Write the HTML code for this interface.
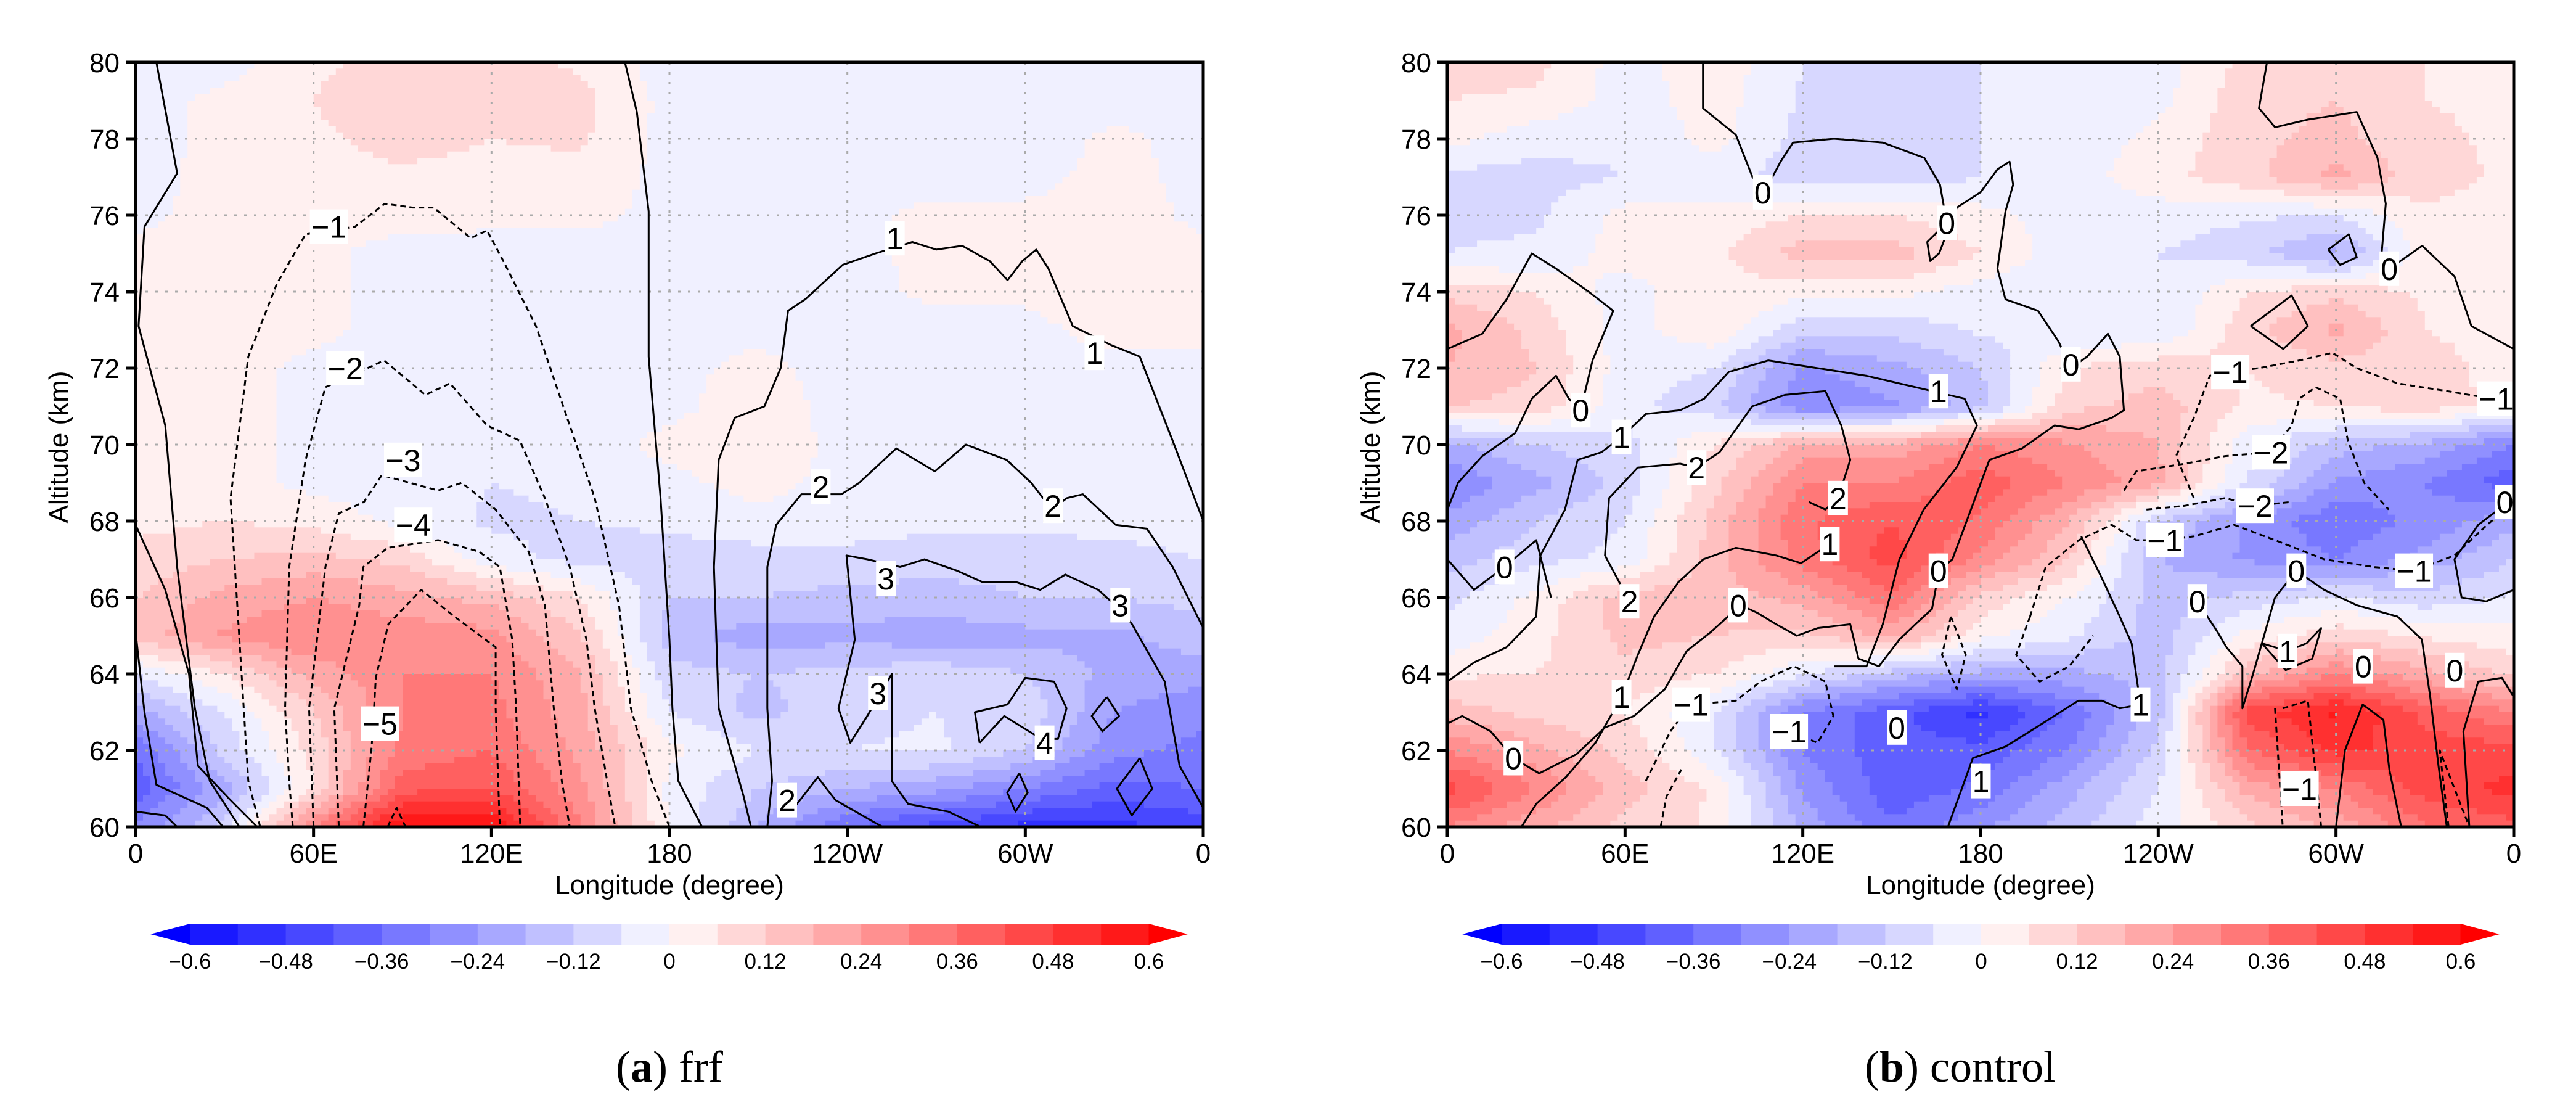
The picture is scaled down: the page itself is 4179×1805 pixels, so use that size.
<!DOCTYPE html>
<html><head><meta charset="utf-8"><style>
html,body{margin:0;padding:0;background:#fff;}
svg{display:block;}
</style></head><body>
<svg id="fig" width="4179" height="1805" viewBox="0 0 4179 1805" xmlns="http://www.w3.org/2000/svg" font-family="Liberation Sans, sans-serif">
<rect x="0" y="0" width="4179" height="1805" fill="#fff"/>
<g id="panelA"></g>
<g id="panelB"></g>
<text x="1086" y="1754" text-anchor="middle" font-family="Liberation Serif, serif" font-size="72">(<tspan font-weight="bold">a</tspan>) frf</text>
<text x="3180" y="1754" text-anchor="middle" font-family="Liberation Serif, serif" font-size="72">(<tspan font-weight="bold">b</tspan>) control</text>
</svg>
<script>
// ---------- data ----------
const lonTicks = [0,60,120,180,240,300,360];
const lonTickLabels = ["0","60E","120E","180","120W","60W","0"];
const altTicks = [60,62,64,66,68,70,72,74,76,78,80];
const cbLevels = [-0.6,-0.48,-0.36,-0.24,-0.12,0,0.12,0.24,0.36,0.48,0.6];
const cbLabels = ["−0.6","−0.48","−0.36","−0.24","−0.12","0","0.12","0.24","0.36","0.48","0.6"];
const gridLons = [0,30,60,90,120,150,180,210,240,270,300,330,360];
const gridAlts = [80,79,78,77,76,75,74,73,72,71,70,69,68,67,66,65,64,63,62,61,60];
const frfField = [
[-0.03,-0.03,0.05,0.08,0.08,0.05,-0.03,-0.03,-0.03,-0.03,-0.05,-0.03,-0.03],
[-0.03,0.02,0.06,0.1,0.08,0.08,-0.02,-0.03,-0.03,-0.04,-0.06,-0.04,-0.03],
[-0.03,0.02,0.05,0.08,0.06,0.07,-0.02,-0.03,-0.03,-0.04,-0.05,0.02,-0.03],
[-0.03,0.03,0.04,0.05,0.04,0.04,-0.02,-0.03,-0.03,-0.03,-0.03,0.03,-0.03],
[-0.02,0.03,0.03,0.03,0.02,0.02,-0.02,-0.03,-0.02,0.02,0.02,0.04,-0.02],
[0.02,0.03,0.02,-0.03,-0.03,-0.03,-0.03,-0.03,-0.02,0.02,0.03,0.04,0.02],
[0.03,0.03,0.02,-0.03,-0.06,-0.04,-0.03,-0.03,-0.03,0.02,0.02,0.06,0.02],
[0.03,0.03,0.02,-0.03,-0.06,-0.04,-0.02,-0.02,-0.03,-0.04,-0.03,0.04,0.02],
[0.03,0.03,-0.02,-0.03,-0.04,-0.03,-0.02,0.02,-0.03,-0.06,-0.05,-0.03,-0.02],
[0.03,0.03,-0.02,-0.03,-0.03,-0.03,-0.02,0.04,-0.03,-0.04,-0.04,-0.04,-0.03],
[0.03,0.03,-0.02,-0.03,-0.04,-0.03,0.02,0.04,-0.02,-0.03,-0.03,-0.04,-0.03],
[0.03,0.03,-0.02,-0.03,-0.06,-0.05,-0.02,0.03,-0.03,-0.03,-0.04,-0.04,-0.03],
[0.04,0.06,0.04,-0.02,-0.07,-0.06,-0.05,-0.03,-0.03,-0.04,-0.04,-0.04,-0.03],
[0.08,0.12,0.14,0.1,-0.04,-0.08,-0.08,-0.08,-0.08,-0.1,-0.1,-0.08,-0.06],
[0.12,0.2,0.24,0.2,0.16,0.06,-0.12,-0.12,-0.14,-0.14,-0.12,-0.12,-0.1],
[0.15,0.25,0.3,0.28,0.26,0.12,-0.15,-0.22,-0.2,-0.22,-0.2,-0.2,-0.14],
[-0.06,0.06,0.2,0.3,0.3,0.18,-0.1,-0.12,-0.1,-0.08,-0.12,-0.2,-0.22],
[-0.2,-0.06,0.12,0.3,0.32,0.2,-0.06,-0.14,-0.08,-0.06,-0.08,-0.24,-0.28],
[-0.35,-0.1,0.08,0.32,0.36,0.22,0.02,-0.06,-0.06,-0.05,-0.12,-0.28,-0.32],
[-0.4,-0.2,0.06,0.4,0.42,0.26,-0.02,-0.12,-0.18,-0.22,-0.3,-0.38,-0.36],
[-0.3,-0.1,0.3,0.6,0.6,0.3,0.0,-0.18,-0.35,-0.45,-0.5,-0.5,-0.45]
];
const ctlField = [
[0.08,0.08,-0.03,0.04,-0.06,-0.06,-0.06,-0.06,-0.03,0.08,0.1,0.06,0.06],
[0.06,0.05,-0.03,0.03,-0.07,-0.07,-0.06,-0.05,-0.02,0.1,0.12,0.06,0.05],
[0.02,-0.04,-0.05,0.02,-0.08,-0.08,-0.06,-0.04,0.02,0.1,0.14,0.07,0.05],
[-0.08,-0.08,-0.06,-0.03,-0.1,-0.1,-0.06,-0.03,0.04,0.1,0.2,0.08,0.05],
[-0.07,-0.07,0.02,0.02,0.06,0.06,0.02,-0.03,-0.03,-0.05,-0.06,0.05,0.04],
[-0.06,-0.05,0.03,0.04,0.15,0.15,0.06,-0.04,-0.06,-0.1,-0.2,0.04,0.04],
[0.1,0.06,-0.03,0.05,0.02,0.02,-0.03,-0.05,-0.06,0.06,0.1,0.05,0.04],
[0.2,0.1,-0.03,0.05,-0.1,-0.1,-0.05,-0.06,-0.06,0.1,0.2,0.06,0.04],
[0.18,0.12,-0.03,-0.06,-0.25,-0.2,-0.12,0.06,0.1,0.06,0.1,0.08,0.04],
[0.12,0.1,-0.04,-0.1,-0.3,-0.25,-0.15,0.1,0.15,0.05,0.06,0.1,0.03],
[-0.2,-0.12,-0.08,0.06,0.2,0.2,0.3,0.25,0.18,-0.04,-0.15,-0.2,-0.3],
[-0.3,-0.2,-0.1,0.1,0.3,0.3,0.4,0.3,0.2,-0.06,-0.25,-0.3,-0.4],
[-0.22,-0.12,-0.06,0.14,0.35,0.42,0.35,0.18,-0.12,-0.25,-0.35,-0.28,-0.2],
[-0.15,-0.08,-0.04,0.15,0.33,0.45,0.28,0.12,-0.18,-0.25,-0.3,-0.22,-0.12],
[-0.08,0.02,0.15,0.15,0.2,0.35,0.1,0.0,-0.15,-0.1,-0.05,-0.1,-0.05],
[-0.04,0.04,0.14,0.12,0.1,0.2,0.02,-0.05,-0.15,0.02,0.1,0.05,0.02],
[0.05,0.06,0.1,0.06,-0.05,-0.15,-0.2,-0.2,-0.15,0.15,0.3,0.2,0.1],
[0.15,0.1,0.06,-0.06,-0.3,-0.4,-0.5,-0.35,-0.15,0.45,0.55,0.4,0.3],
[0.3,0.2,0.1,-0.05,-0.3,-0.4,-0.4,-0.3,-0.1,0.35,0.5,0.45,0.45],
[0.45,0.3,0.15,0.05,-0.25,-0.4,-0.35,-0.2,-0.06,0.2,0.3,0.45,0.5],
[0.3,0.2,0.1,0.05,-0.2,-0.35,-0.25,-0.15,-0.03,0.1,0.2,0.35,0.4]
];
// contour polylines: [lon, alt] pairs
const frfSolid = [
[[7,80],[14,77.1],[3,75.7],[1,73.1],[10,70.5],[14,66.8],[20,63.1],[25,61.2],[35,60]],
[[0,67.9],[10,66.2],[18,64],[21,61.6],[32,60.7],[41,60]],
[[0,65.1],[3,63],[7,61.1],[24,60.5],[29.5,60]],
[[0,60.4],[10,60.3],[14,60]],
[[165,80],[169,78.7],[173,76.1],[173,72.3],[177,68.6],[180,64.9],[181,63.1],[183,61.2],[191,60]],
[[360,68],[349.7,70.1],[338.6,72.3],[329,72.6],[316,73.1],[307.8,74.6],[303.7,75.1],[299,74.8],[294,74.3],[288,74.8],[278.7,75.2],[270,75.1],[261.9,75.3],[249.5,75],[238.4,74.7],[225.8,73.8],[220,73.5],[217.5,72],[212,71],[202,70.7],[196.6,69.6],[195,66.8],[196.6,63.1],[205,60.8],[207.5,60]],
[[360,65.2],[349.7,66.8],[341,67.8],[330.5,67.9],[319.4,68.7],[314,68.6],[309,68.3],[302,69],[293.7,69.6],[280,70],[269.5,69.3],[256.5,69.9],[244,69],[238,68.7],[224.5,68.7],[216,67.9],[213,66.8],[213,63.1],[214.6,61.2],[213,60]],
[[222,60.5],[230,61.3],[236,60.7],[249.5,60.1],[252,60]],
[[331.8,65.7],[324.6,66.2],[313.5,66.6],[305,66.2],[297,66.4],[285.7,66.4],[277,66.7],[266,67],[257.8,66.8],[246.7,67],[239.7,67.1],[242.5,64.9],[237,63.1],[241,62.2],[246.7,62.9],[255,64],[255,61.2],[260.5,60.6],[274,60.4],[285,60]],
[[331.8,65.7],[336,65.3],[347,63.8],[352,61.6],[360,60.5]],
[[284.6,62.2],[283,63],[294,63.2],[300,63.9],[309.7,63.8],[313.9,63.1],[311,62.3],[305.4,62.3],[292.9,62.9],[284.6,62.2]],
[[327.5,63.4],[331.6,62.9],[326,62.5],[322.4,62.9],[327.5,63.4]],
[[338.6,61.8],[342.8,61],[335.9,60.3],[330.9,61],[338.6,61.8]],
[[298,61.4],[300.8,60.9],[296.7,60.4],[293.9,60.9],[298,61.4]]
];
const frfDashed = [
[[42,60],[38,61.2],[35,64.9],[32,68.6],[38,72.3],[47.6,74.2],[57.3,75.5],[74,75.7],[84,76.3],[93.5,76.2],[100.5,76.2],[113,75.4],[118.5,75.6],[124,74.8],[135,73.1],[146.4,70.5],[154.8,68.6],[163,65.8],[167,63.1],[174,61.2],[180,60]],
[[53,60],[51.8,61.2],[50.4,63.1],[51.8,66.8],[57.3,69.6],[64,71.5],[83.8,72.2],[97.7,71.3],[106,71.6],[118.5,70.5],[129.6,70.1],[138,68.6],[146.4,66.8],[152,64.9],[154.8,63.1],[159,61.2],[161.7,60]],
[[60,60],[58.5,63.1],[64,66.8],[68.5,68.2],[77,68.5],[83,69.2],[102,68.8],[110,69],[121.4,68.3],[132.5,67.2],[138,65.8],[141,63.1],[143.7,61.2],[146.4,60]],
[[68.5,60],[67,63.1],[75.4,65.8],[76.8,66.8],[85,67.3],[102,67.5],[115.8,67.2],[122.8,66.8],[127,64.9],[128.3,63.1],[129.7,60]],
[[76.8,60],[79.6,62.1],[81,63.9],[85.2,65.3],[96.3,66.2],[107.5,65.5],[121.4,64.7],[121.4,63.1],[122.8,60]],
[[85,60],[88,60.5],[91,60]]
];
const ctlSolid = [
[[86.3,80],[86.3,78.8],[97.4,78.1],[103,77],[107,76.6],[112.5,77.4],[116.7,77.9],[130.5,78],[147,77.9],[161,77.5],[166.3,76.8],[168.6,75.8],[162,75.3],[163,74.8],[166,75],[172,76.2],[180,76.6],[185.7,77.2],[189.8,77.4],[191,76.8],[188.4,76.1],[185.7,74.6],[188.4,73.8],[199.4,73.5],[206.3,72.7],[210.5,72],[216,72.3],[223,72.9],[227,72.3],[228.4,70.9],[224.3,70.7],[213.2,70.4],[205,70.5],[194,69.9],[183,69.6],[170.5,67],[166,66.7],[163.6,65.7],[158,65.3],[152.6,64.9],[145.7,64.2],[138.8,64.4],[136,65.3],[125,65.2],[118,65],[111,65.3],[104.6,65.6],[99,65.8],[89,65.1],[80.8,64.6],[73.4,63.6],[63,62.9],[53.2,62.6],[43.6,61.9],[31,61.4],[22.3,61.8],[14.6,62.5],[5,62.9],[0,62.7]],
[[0,63.8],[9,64.3],[20,64.7],[30,65.5],[31.4,67.1],[39.7,68.3],[44,69.6],[52,69.8],[58.8,70.2],[67,70.8],[78.6,70.9],[86.7,71.2],[95,71.9],[108.4,72.2],[125,72],[141.5,71.8],[163.6,71.4],[174.6,71.2],[178.8,70.5],[171.9,69.4],[160.8,68.3],[152.6,67],[147,65.3],[141.5,64.2],[130.5,64.2]],
[[61.5,65.9],[53.2,67.1],[54.6,68.6],[64.3,69.4],[78.6,69.5],[84.1,69.4],[91.9,69.8],[102.9,71],[114,71.3],[127.6,71.4],[133,70.5],[136,69.6],[131.9,68.6],[127.6,68.3],[122,68.5]],
[[129.1,67.4],[119.4,66.9],[111,67.1],[97.4,67.3],[86.4,67],[78,66.4],[69.8,65.5],[64.3,64.5],[58.8,63.4],[50,62.2],[40,61.3],[30,60.6],[25,60]],
[[0,68.3],[3.6,69],[11.8,69.7],[22.9,70.3],[28.5,71.2],[36.7,71.8],[41,71.2],[45,70.9],[49,72.2],[56,73.5],[47.7,74],[36.7,74.6],[28.5,75],[20,73.8],[11.8,72.9],[0,72.5]],
[[0,67],[9,66.2],[19.3,66.8],[30,67.5],[35,66]],
[[276.7,80],[274,78.8],[279.4,78.3],[290.5,78.5],[307,78.7],[314,77.5],[316.8,76.3],[315.4,75],[318,74.6],[329.1,75.2],[340,74.4],[345.7,73.1],[360,72.5]],
[[271.2,73.1],[285,73.9],[290.5,73.1],[282.2,72.5],[271.2,73.1]],
[[297.4,75.1],[304.3,75.5],[307,74.9],[301.4,74.7],[297.4,75.1]],
[[253.2,65.9],[260,65.1],[263,64.7],[268.4,64.2],[268.4,63.1],[272,64],[279.4,66],[286.6,66.7],[296,66.2],[307,65.8],[320.8,65.5],[329,64.9],[331.8,63.4],[334.6,61.6],[337.4,60]],
[[360,68.6],[348,67.9],[340,67],[342.4,66],[350.7,65.9],[360,66.2]],
[[275,64.8],[283.6,64.6],[290,64.8],[295,65.2],[292,64.4],[283,64.1],[275,64.8]],
[[169,60],[177.4,61.8],[188.4,62.1],[196.7,62.5],[213,63.3],[221,63.3],[227,63.1],[234,63.2],[231,64.8],[227,65.5],[221,66.5],[214,67.6]],
[[300,60],[303,62],[309,63.2],[316,62.8],[318,61.5],[322,60]],
[[345,60],[343,62.5],[348,63.8],[356,63.9],[360,63.4]]
];
const ctlDashed = [
[[252,68.6],[246,69.7],[252,70.7],[257.4,71.8],[264.3,71.9],[274,72],[287.6,72.2],[298.8,72.4],[307,72],[320.8,71.6],[337.4,71.4],[352.6,71.2],[360,71.3]],
[[228.4,68.8],[232.6,69.3],[249,69.5],[262.6,69.7],[278,69.8],[285,70.5],[287.6,71.2],[293.1,71.5],[301.4,71.2],[304,70.1],[309.5,69],[317.8,68.3]],
[[236,68.3],[249,68.4],[262.6,68.6],[272.6,68.4],[285,68.5]],
[[196.7,65.5],[202,66.8],[213.2,67.5],[224.3,67.9],[232.6,67.5],[242.2,67.5],[252,67.6],[265.6,67.9],[279.4,67.5],[296,67],[312.6,66.8],[326.3,66.7],[340,67.1],[351,67.9],[360,68.5]],
[[67,61.2],[75.3,62.5],[82.2,63.2],[97.4,63.3],[105.7,63.8],[117,64.2],[127.6,63.8],[130.3,62.9],[125,62.2],[115.3,62.5]],
[[79,61.5],[74,60.8],[72,60]],
[[279.4,63.1],[282,60]],
[[282,63.1],[290.5,63.3],[293,61.5],[295,60]],
[[170,65.5],[175,64.5],[172,63.6],[167,64.5],[170,65.5]],
[[196.7,65.5],[192,64.5],[200,63.8],[210,64.2],[218,65]],
[[338,60],[335,62],[340,61],[345,60]]
];
const frfLabels = [[65.2,75.7,"−1"],[70.7,72,"−2"],[90.2,69.6,"−3"],[93.6,67.9,"−4"],[82.4,62.7,"−5"],[256,75.4,"1"],[323.3,72.4,"1"],[231,68.9,"2"],[309.3,68.4,"2"],[253,66.5,"3"],[332,65.8,"3"],[250.3,63.5,"3"],[306.5,62.2,"4"],[219.7,60.7,"2"]];
const ctlLabels = [[106.5,76.6,"0"],[168.6,75.8,"0"],[318,74.6,"0"],[210.5,72.1,"0"],[45,70.9,"0"],[165.8,71.4,"1"],[58.8,70.2,"1"],[84.1,69.4,"2"],[131.9,68.6,"2"],[129.1,67.4,"1"],[165.8,66.7,"0"],[19.3,66.8,"0"],[61.5,65.9,"2"],[98.2,65.8,"0"],[253.2,65.9,"0"],[286.6,66.7,"0"],[242.2,67.5,"−1"],[326.3,66.7,"−1"],[278,69.8,"−2"],[272.6,68.4,"−2"],[264.3,71.9,"−1"],[354,71.2,"−1"],[357,68.5,"0"],[283.6,64.6,"1"],[309.2,64.2,"0"],[340.1,64.1,"0"],[58.8,63.4,"1"],[82.2,63.2,"−1"],[115.3,62.5,"−1"],[151.7,62.6,"0"],[22.3,61.8,"0"],[234,63.2,"1"],[180.1,61.2,"1"],[287.7,61,"−1"]];

// ---------- helpers ----------
const NS = "http://www.w3.org/2000/svg";
function mk(tag, attrs, parent){const e=document.createElementNS(NS,tag);for(const k in attrs)e.setAttribute(k,attrs[k]);parent.appendChild(e);return e;}
const blueT=[25,48,72,96,120,144,168,192,215,240];
function colorFor(v){
  if(v<-0.6) return "rgb(0,0,255)";
  if(v>=0.6) return "rgb(255,0,0)";
  let k=Math.floor(v/0.06+1e-9);
  if(k<0){const i=k+10; const t=blueT[i]; return `rgb(${t},${t},255)`;}
  const t=blueT[9-k]; return `rgb(255,${t},${t})`;
}
function sample(field,lon,alt){
  let ci=lon/30, ri=(80-alt);
  ci=Math.max(0,Math.min(11.9999,ci)); ri=Math.max(0,Math.min(19.9999,ri));
  const c0=Math.floor(ci), r0=Math.floor(ri), fc=ci-c0, fr=ri-r0;
  const a=field[r0][c0],b=field[r0][c0+1],c=field[r0+1][c0],d=field[r0+1][c0+1];
  return (a*(1-fc)+b*fc)*(1-fr)+(c*(1-fc)+d*fc)*fr;
}
function drawPanel(g, X0, X1, Y0, Y1, field, solid, dashed, labels, cbStart, key){
  const sx=lon=>X0+(lon/360)*(X1-X0);
  const sy=alt=>Y1-((alt-60)/20)*(Y1-Y0);
  const heat=mk("g",{},g);
  
  
  const nx=144, ny=120, dl=360/nx, da=20/ny;
  for(let j=0;j<ny;j++){
    const alt=80-(j+0.5)*da;
    let start=0, prev=null;
    for(let i=0;i<=nx;i++){
      const col = i<nx ? colorFor(sample(field,(i+0.5)*dl,alt)) : null;
      if(col!==prev){
        if(prev!==null){
          const r=mk("rect",{x:sx(start*dl).toFixed(1),y:sy(80-j*da).toFixed(1),width:(sx(i*dl)-sx(start*dl)+0.8).toFixed(1),height:(sy(80-(j+1)*da)-sy(80-j*da)+0.8).toFixed(1),fill:prev},heat);
          
          
        }
        start=i; prev=col;
      }
    }
  }
  const grid=mk("g",{stroke:"#aaa","stroke-width":3,"stroke-dasharray":"4 12"},g);
  
  
  lonTicks.slice(1,-1).forEach(l=>mk("line",{x1:sx(l),x2:sx(l),y1:Y0,y2:Y1},grid));
  altTicks.slice(1,-1).forEach(a=>mk("line",{x1:X0,x2:X1,y1:sy(a),y2:sy(a)},grid));
  const cg=mk("g",{fill:"none",stroke:"#000","stroke-width":3,"stroke-linejoin":"round"},g);
  
  
  const pts=line=>line.map(p=>sx(p[0]).toFixed(1)+","+sy(p[1]).toFixed(1)).join(" ");
  solid.forEach(line=>{const p=mk("polyline",{points:pts(line)},cg);
    
    });
  dashed.forEach(line=>{const p=mk("polyline",{points:pts(line),"stroke-dasharray":"9 6"},cg);
    
    });
  labels.forEach(L=>{
    const x=sx(L[0]), y=sy(L[1]);
    const w=L[2].length>1?62:32;
    const lg=mk("g",{},g);
    
    
    mk("rect",{x:x-w/2,y:y-28,width:w,height:56,fill:"#fff"},lg);
    const t=mk("text",{x:x,y:y+18,"text-anchor":"middle","font-size":50},lg);
    t.textContent=L[2];
  });
  const fr=mk("rect",{x:X0,y:Y0,width:X1-X0,height:Y1-Y0,fill:"none",stroke:"#000","stroke-width":5},g);
  
  
  const ax=mk("g",{stroke:"#000","stroke-width":5},g);
  
  
  lonTicks.forEach(l=>mk("line",{x1:sx(l),x2:sx(l),y1:Y1,y2:Y1+16},ax));
  altTicks.forEach(a=>mk("line",{x1:X0-16,x2:X0,y1:sy(a),y2:sy(a)},ax));
  const xl=mk("g",{"font-size":44,"text-anchor":"middle"},g);
  
  
  lonTicks.forEach((l,i)=>{const t=mk("text",{x:sx(l),y:Y1+58},xl);t.textContent=lonTickLabels[i];});
  const yl=mk("g",{"font-size":44,"text-anchor":"end"},g);
  
  
  altTicks.forEach(a=>{const t=mk("text",{x:X0-26,y:sy(a)+16},yl);t.textContent=String(a);});
  const xt=mk("text",{x:(X0+X1)/2,y:Y1+109,"text-anchor":"middle","font-size":44},g);
  xt.textContent="Longitude (degree)";
  
  
  const yt=mk("text",{x:0,y:0,"text-anchor":"middle","font-size":44,transform:`translate(${X0-110},${(Y0+Y1)/2+4}) rotate(-90)`},g);
  yt.textContent="Altitude (km)";
  
  
  const cb=mk("g",{},g);
  
  
  const segW=1556/20, cy0=1498, cy1=1532;
  for(let s=0;s<20;s++){
    const v=-0.6+(s+0.5)*0.06;
    mk("rect",{x:cbStart+s*segW,y:cy0,width:segW+0.8,height:cy1-cy0,fill:colorFor(v)},cb);
  }
  mk("polygon",{points:`${cbStart+0.5},${cy0} ${cbStart-64},${(cy0+cy1)/2} ${cbStart+0.5},${cy1}`,fill:"rgb(0,0,255)"},cb);
  const ce=cbStart+1556;
  mk("polygon",{points:`${ce-0.5},${cy0} ${ce+63},${(cy0+cy1)/2} ${ce-0.5},${cy1}`,fill:"rgb(255,0,0)"},cb);
  cbLevels.forEach((lv,i)=>{
    const t=mk("text",{x:cbStart+(lv+0.6)/1.2*1556,y:1571,"text-anchor":"middle","font-size":35},cb);
    t.textContent=cbLabels[i];
  });
}
drawPanel(document.getElementById("panelA"),220,1952,101,1341,frfField,frfSolid,frfDashed,frfLabels,308,"frf");
drawPanel(document.getElementById("panelB"),2348,4078,101,1341,ctlField,ctlSolid,ctlDashed,ctlLabels,2436,"control");
</script>
</body></html>
